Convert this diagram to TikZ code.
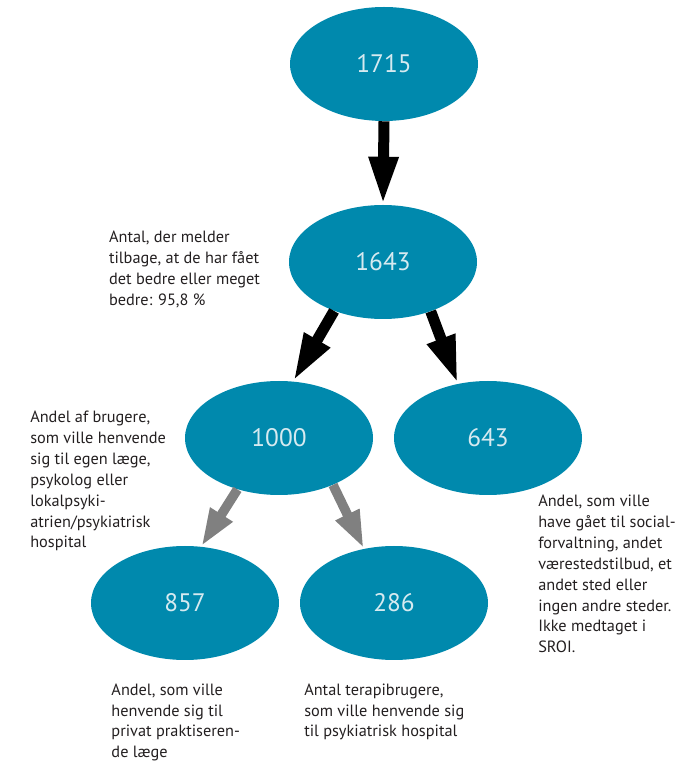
\documentclass[tikz,border=0pt]{standalone}
\usepackage{fontspec}
\setmainfont{PT Sans}
\usepackage[svgnames]{xcolor}
\usetikzlibrary{arrows.meta,shapes.geometric}
\definecolor{sroiblue}{RGB}{0,137,173}
\definecolor{sroilight}{RGB}{214,234,240}
\definecolor{sroitext}{RGB}{35,31,32}

\begin{document}
\begin{tikzpicture}[font=\fontsize{11.6}{14.9}\selectfont]
	\useasboundingbox (0,0) rectangle (17.025,19.1);
	\clip (0,0) rectangle (17.025,19.1);
      \tikzstyle{count} = [ellipse, fill=sroiblue, minimum width=4.7cm, minimum height=2.85cm, inner sep=0pt, text=sroilight, font=\fontsize{18}{20}\selectfont]
      \tikzstyle{note} = [anchor=north west, align=left, inner sep=0pt, text=sroitext]
      \tikzstyle{bigarrow} = [line width=0.275cm, -{Triangle[length=1.2cm, width=0.68cm]}]
      \tikzstyle{smallarrow} = [line width=0.24cm, color=Gray, -{Triangle[length=0.95cm, width=0.6cm]}]
      \node (total) at (9.6,17.5) [count] {1715};
      \node (better) at (9.575,12.55) [count] {1643};
      \node (health) at (6.975,8.15) [count] {1000};
      \node (social) at (12.2,8.15) [count] {643};
      \node (doctor) at (4.625,4.025) [count] {857};
      \node (psych) at (9.85,4.025) [count] {286};
      \node (betternote) at (2.72,13.34) [note] {Antal, der melder\\tilbage, at de har fået\\det bedre eller meget\\bedre: 95,8 \%};
      \node (healthnote) at (0.75,8.84) [note] {Andel af brugere,\\som ville henvende\\sig til egen læge,\\psykolog eller\\lokalpsyki-\\atrien/psykiatrisk\\hospital};
      \node (socialnote) at (13.45,6.74) [note] {Andel, som ville\\have gået til social-\\forvaltning, andet\\værestedstilbud, et\\andet sted eller\\ingen andre steder.\\Ikke medtaget i\\SROI.};
      \node (doctornote) at (2.78,2.02) [note] {Andel, som ville\\henvende sig til\\privat praktiseren-\\de læge};
      \node (psychnote) at (7.6,2.02) [note] {Antal terapibrugere,\\som ville henvende sig\\til psykiatrisk hospital};
      \draw[bigarrow] (total.south) -- (better.north);
      \draw[bigarrow] (better.225) -- (health.76);
      \draw[bigarrow] (better.314) -- (social.119);
      \draw[smallarrow] (health.231) -- (doctor.74);
      \draw[smallarrow] (health.319) -- (psych.119);
\end{tikzpicture}
\end{document}
